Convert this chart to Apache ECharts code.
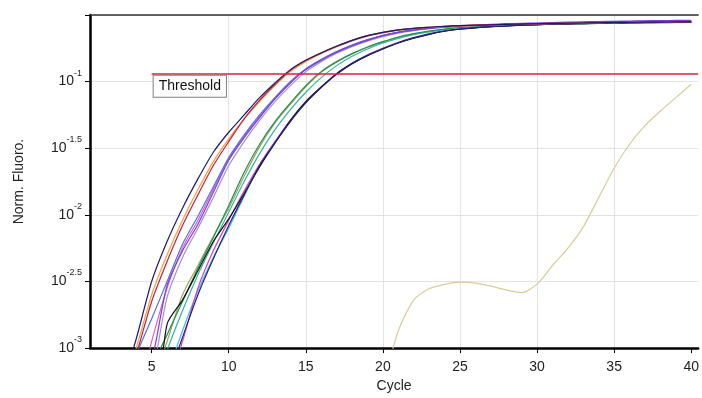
<!DOCTYPE html>
<html>
<head>
<meta charset="utf-8">
<script src="https://cdn.jsdelivr.net/npm/echarts@6/dist/echarts.min.js"></script>
<style>
  html, body { margin: 0; padding: 0; background: #fff; }
  #chart { width: 702px; height: 398px; }
</style>
</head>
<body>
<div id="chart"></div>
<script>
// cycle numbers
var cycles = [1,2,3,4,5,6,7,8,9,10,11,12,13,14,15,16,17,18,19,20,21,22,23,24,25,26,27,28,29,30,31,32,33,34,35,36,37,38,39,40];
var xTicks = [5,10,15,20,25,30,35,40];

// log10 of normalised fluorescence, one value per cycle
var navyA = [-3.6,-3.5,-3.3,-2.93,-2.5,-2.2,-1.95,-1.73,-1.53,-1.38,-1.25,-1.12,-1.01,-0.91,-0.84,-0.785,-0.735,-0.69,-0.655,-0.63,-0.612,-0.6,-0.592,-0.585,-0.58,-0.577,-0.574,-0.571,-0.568,-0.566,-0.564,-0.562,-0.56,-0.558,-0.556,-0.555,-0.554,-0.553,-0.552,-0.551];
var orange = [-3.6,-3.5,-3.35,-3.0,-2.6,-2.3,-2.04,-1.81,-1.6,-1.43,-1.28,-1.15,-1.03,-0.925,-0.85,-0.79,-0.74,-0.695,-0.66,-0.635,-0.616,-0.603,-0.594,-0.587,-0.582,-0.578,-0.575,-0.572,-0.569,-0.567,-0.565,-0.563,-0.561,-0.559,-0.557,-0.556,-0.555,-0.554,-0.553,-0.552];
var crimson = [-3.6,-3.55,-3.4,-3.05,-2.65,-2.35,-2.08,-1.85,-1.63,-1.45,-1.28,-1.14,-1.02,-0.915,-0.84,-0.783,-0.733,-0.69,-0.655,-0.63,-0.612,-0.6,-0.592,-0.585,-0.58,-0.576,-0.573,-0.57,-0.567,-0.565,-0.563,-0.561,-0.559,-0.557,-0.556,-0.555,-0.554,-0.553,-0.552,-0.551];
var blue = [-3.6,-3.55,-3.4,-3.05,-2.78,-2.5,-2.22,-2.01,-1.79,-1.57,-1.4,-1.25,-1.12,-1.0,-0.905,-0.835,-0.775,-0.725,-0.685,-0.652,-0.628,-0.61,-0.598,-0.589,-0.582,-0.577,-0.573,-0.57,-0.567,-0.565,-0.563,-0.561,-0.559,-0.557,-0.555,-0.553,-0.551,-0.549,-0.547,-0.545];
var purple = [-3.6,-3.6,-3.5,-3.4,-3.1,-2.53,-2.27,-2.07,-1.83,-1.59,-1.42,-1.27,-1.13,-1.01,-0.91,-0.84,-0.78,-0.73,-0.69,-0.655,-0.63,-0.613,-0.6,-0.59,-0.582,-0.576,-0.571,-0.567,-0.563,-0.56,-0.557,-0.554,-0.551,-0.549,-0.547,-0.545,-0.543,-0.542,-0.541,-0.54];
var lilac = [-3.6,-3.6,-3.5,-3.4,-3.2,-2.62,-2.32,-2.1,-1.87,-1.63,-1.45,-1.29,-1.15,-1.03,-0.925,-0.85,-0.787,-0.737,-0.696,-0.662,-0.636,-0.617,-0.603,-0.593,-0.585,-0.579,-0.574,-0.57,-0.566,-0.563,-0.56,-0.557,-0.555,-0.553,-0.551,-0.549,-0.547,-0.546,-0.545,-0.544];
var pinkA = [-3.6,-3.6,-3.5,-3.4,-2.95,-2.55,-2.25,-2.04,-1.81,-1.58,-1.41,-1.26,-1.12,-1.0,-0.905,-0.835,-0.775,-0.727,-0.687,-0.654,-0.63,-0.612,-0.6,-0.59,-0.583,-0.578,-0.574,-0.57,-0.567,-0.564,-0.562,-0.56,-0.558,-0.556,-0.554,-0.553,-0.552,-0.551,-0.55,-0.549];
var green = [-3.6,-3.6,-3.6,-3.5,-3.15,-2.9,-2.65,-2.4,-2.17,-1.93,-1.68,-1.47,-1.3,-1.16,-1.03,-0.925,-0.85,-0.79,-0.74,-0.7,-0.665,-0.64,-0.62,-0.605,-0.595,-0.588,-0.582,-0.578,-0.574,-0.571,-0.568,-0.566,-0.564,-0.562,-0.56,-0.559,-0.558,-0.557,-0.556,-0.555];
var olive = [-3.6,-3.6,-3.6,-3.55,-3.3,-2.95,-2.6,-2.38,-2.16,-1.95,-1.71,-1.49,-1.31,-1.17,-1.04,-0.93,-0.853,-0.792,-0.742,-0.702,-0.668,-0.643,-0.623,-0.608,-0.597,-0.589,-0.583,-0.579,-0.575,-0.572,-0.569,-0.567,-0.565,-0.563,-0.561,-0.56,-0.559,-0.558,-0.557,-0.556];
var teal = [-3.6,-3.6,-3.6,-3.55,-3.4,-3.02,-2.72,-2.45,-2.21,-1.98,-1.75,-1.54,-1.36,-1.21,-1.08,-0.97,-0.88,-0.81,-0.755,-0.71,-0.675,-0.648,-0.627,-0.611,-0.6,-0.592,-0.586,-0.581,-0.577,-0.573,-0.57,-0.567,-0.565,-0.563,-0.561,-0.559,-0.557,-0.556,-0.555,-0.554];
var black = [-3.6,-3.6,-3.6,-3.6,-3.6,-2.82,-2.64,-2.42,-2.2,-2.03,-1.84,-1.64,-1.46,-1.29,-1.15,-1.04,-0.94,-0.865,-0.805,-0.755,-0.71,-0.674,-0.645,-0.622,-0.607,-0.596,-0.588,-0.582,-0.577,-0.573,-0.57,-0.567,-0.564,-0.562,-0.56,-0.558,-0.556,-0.555,-0.554,-0.553];
var pinkB = [-3.6,-3.6,-3.6,-3.6,-3.5,-3.3,-2.95,-2.55,-2.27,-2.04,-1.82,-1.62,-1.45,-1.29,-1.15,-1.04,-0.94,-0.862,-0.8,-0.75,-0.706,-0.67,-0.642,-0.62,-0.605,-0.595,-0.587,-0.581,-0.576,-0.572,-0.569,-0.566,-0.564,-0.562,-0.56,-0.558,-0.557,-0.556,-0.555,-0.554];
var cyan = [-3.6,-3.6,-3.6,-3.6,-3.5,-3.2,-2.87,-2.57,-2.32,-2.1,-1.86,-1.63,-1.45,-1.29,-1.15,-1.04,-0.94,-0.86,-0.8,-0.75,-0.705,-0.67,-0.64,-0.617,-0.603,-0.593,-0.585,-0.58,-0.576,-0.572,-0.569,-0.566,-0.564,-0.562,-0.56,-0.558,-0.557,-0.556,-0.555,-0.554];
var navyB = [-3.6,-3.6,-3.6,-3.6,-3.55,-3.25,-2.92,-2.6,-2.33,-2.08,-1.85,-1.63,-1.46,-1.3,-1.16,-1.045,-0.945,-0.865,-0.803,-0.752,-0.708,-0.672,-0.643,-0.62,-0.605,-0.595,-0.587,-0.581,-0.576,-0.572,-0.568,-0.565,-0.562,-0.56,-0.558,-0.556,-0.554,-0.553,-0.552,-0.551];
var late = [null,null,null,null,null,null,null,null,null,null,null,null,null,null,null,null,null,null,null,-3.3,-2.87,-2.64,-2.555,-2.522,-2.505,-2.512,-2.535,-2.563,-2.583,-2.52,-2.38,-2.25,-2.09,-1.87,-1.65,-1.47,-1.33,-1.22,-1.12,-1.02];

var thresholdLog = -0.94;
var thresholdFrom = 5;

var curves = [
  ['late', late, '#d9cc96'],
  ['olive', olive, '#a3a35c'],
  ['teal', teal, '#2fb59c'],
  ['green', green, '#1f8f4e'],
  ['cyan', cyan, '#3cc3e0'],
  ['pinkB', pinkB, '#d83fc4'],
  ['black', black, '#111111'],
  ['navyB', navyB, '#23237e'],
  ['lilac', lilac, '#a08de2'],
  ['pinkA', pinkA, '#e259d6'],
  ['blue', blue, '#4f72e3'],
  ['purple', purple, '#7b3fd0'],
  ['orange', orange, '#f0a23c'],
  ['crimson', crimson, '#c21f45'],
  ['navyA', navyA, '#1a1a72']
];

var font = 'Liberation Sans, Arial, sans-serif';

function toPoints(arr) {
  return cycles.map(function (c, i) {
    return [c, arr[i] == null ? null : Math.pow(10, arr[i])];
  });
}

var series = curves.map(function (c) {
  return {
    name: c[0],
    type: 'line',
    data: toPoints(c[1]),
    showSymbol: false,
    smooth: 0.25,
    lineStyle: { width: 1.2, color: c[2] },
    itemStyle: { color: c[2] },
    silent: true
  };
});

var thr = Math.pow(10, thresholdLog);
series.push({
  name: 'threshold',
  type: 'line',
  data: [],
  markLine: {
    silent: true,
    symbol: 'none',
    animation: false,
    lineStyle: { color: '#d2263a', width: 1.6, type: 'solid' },
    label: {
      position: 'insideStartBottom',
      distance: [2, 2],
      formatter: 'Threshold',
      fontFamily: font,
      fontSize: 14,
      color: '#111',
      backgroundColor: '#fff',
      borderColor: '#808080',
      borderWidth: 1,
      padding: [4, 5, 3, 5]
    },
    data: [[{ coord: [thresholdFrom, thr] }, { coord: [40.45, thr] }]]
  }
});

var chart = echarts.init(document.getElementById('chart'));
chart.setOption({
  animation: false,
  backgroundColor: '#fff',
  grid: { left: 90, right: 0, top: 15, bottom: 46 },
  xAxis: [{
    type: 'value',
    min: 1,
    max: 40.45,
    splitNumber: 8,
    name: 'Cycle',
    nameLocation: 'middle',
    nameGap: 30,
    nameTextStyle: { fontFamily: font, fontSize: 14, color: '#222' },
    axisLine: { lineStyle: { color: '#000', width: 2.5 } },
    axisTick: { customValues: xTicks, length: 5, lineStyle: { color: '#000' } },
    axisLabel: { customValues: xTicks, fontFamily: font, fontSize: 14, color: '#222', margin: 12 },
    splitLine: { showMinLine: false, showMaxLine: false, lineStyle: { color: '#e3e3e3' } }
  }, {
    type: 'value',
    position: 'top',
    min: 1,
    max: 40.45,
    axisLine: { show: true, lineStyle: { color: '#333', width: 1.5 } },
    axisTick: { show: false },
    axisLabel: { show: false },
    splitLine: { show: false }
  }],
  yAxis: {
    type: 'log',
    logBase: 10,
    min: 0.001,
    max: Math.pow(10, -0.5),
    interval: 0.5,
    name: 'Norm. Fluoro.',
    nameLocation: 'middle',
    nameGap: 64,
    nameTextStyle: { fontFamily: font, fontSize: 14, color: '#222' },
    axisLine: { show: true, lineStyle: { color: '#000', width: 2.5 } },
    axisTick: { show: true, length: 5, lineStyle: { color: '#000' } },
    axisLabel: {
      margin: 8,
      fontFamily: font,
      color: '#222',
      formatter: function (v) {
        var e = Math.round(Math.log10(v) * 10) / 10;
        if (e > -0.75) return '';
        return '{b|10}{s|' + e + '}';
      },
      rich: {
        b: { fontFamily: font, fontSize: 14, color: '#222', lineHeight: 26, verticalAlign: 'middle' },
        s: { fontFamily: font, fontSize: 9, color: '#222', lineHeight: 12, verticalAlign: 'top' }
      }
    },
    splitLine: { lineStyle: { color: '#e3e3e3' } }
  },
  series: series
});
</script>
</body>
</html>
